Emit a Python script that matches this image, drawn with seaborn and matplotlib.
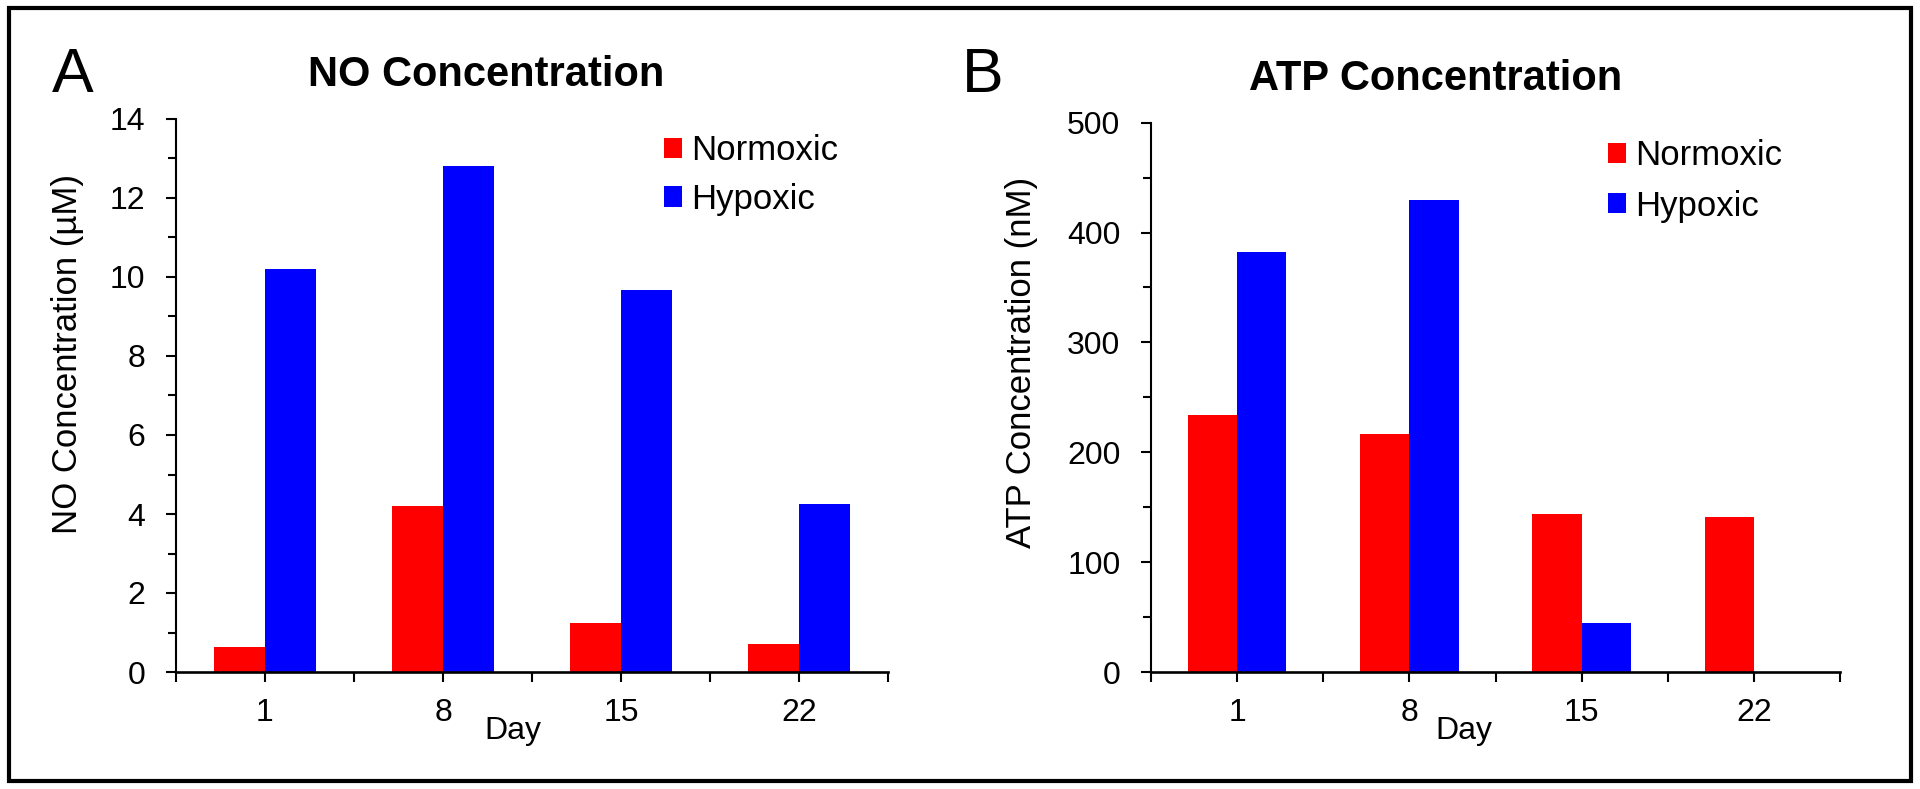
import numpy as np
import pandas as pd
import matplotlib
matplotlib.use("Agg")
import matplotlib.pyplot as plt
from matplotlib.patches import Rectangle
from matplotlib.ticker import MultipleLocator, FixedLocator
import seaborn as sns

days = ["1", "8", "15", "22"]
groups = ["Normoxic", "Hypoxic"]
no_normoxic = [0.63, 4.21, 1.24, 0.70]
no_hypoxic = [10.2, 12.8, 9.66, 4.25]
atp_normoxic = [233.5, 217.0, 143.5, 141.3]
atp_hypoxic = [382.4, 429.4, 44.3, 0.0]

colors = {"Normoxic": "#ff0000", "Hypoxic": "#0000ff"}


def long_table(norm, hyp):
    return pd.DataFrame({
        "Day": days * 2,
        "Condition": ["Normoxic"] * len(days) + ["Hypoxic"] * len(days),
        "Value": list(norm) + list(hyp),
    })


no_df = long_table(no_normoxic, no_hypoxic)
atp_df = long_table(atp_normoxic, atp_hypoxic)

sns.set_style("ticks")
plt.rcParams["font.family"] = ["Liberation Sans", "DejaVu Sans"]
plt.rcParams.update({
    "text.color": "black",
    "axes.labelcolor": "black",
    "axes.edgecolor": "black",
    "xtick.color": "black",
    "ytick.color": "black",
})

W, H = 1920, 789
fig = plt.figure(figsize=(W / 100, H / 100), dpi=100)


def px_axes(l, t, r, b):
    return fig.add_axes([l / W, 1 - b / H, (r - l) / W, (b - t) / H])


axA = px_axes(176, 119, 888, 672)
axB = px_axes(1151, 122.7, 1840, 672)


def draw(ax, df, ymax, ystep, yminor, ylabel, title, title_x, ylab_xy, day_x, leg_xy, legsp):
    sns.barplot(data=df, x="Day", y="Value", hue="Condition", order=days,
                hue_order=groups, palette=colors, width=0.573, saturation=1,
                linewidth=0, ax=ax)
    ax.set_xlim(-0.5, len(days) - 0.5)
    ax.set_ylim(0, ymax)
    ax.yaxis.set_major_locator(MultipleLocator(ystep))
    ax.yaxis.set_minor_locator(MultipleLocator(yminor))
    ax.xaxis.set_minor_locator(FixedLocator(np.arange(-0.5, len(days), 1.0)))
    sns.despine(ax=ax)
    ax.spines["left"].set_linewidth(1.5)
    ax.spines["bottom"].set_linewidth(1.9)
    ax.tick_params(axis="y", which="major", direction="out", length=7.5, width=1.5,
                   labelsize=23, pad=14.5, colors="black")
    ax.tick_params(axis="y", which="minor", direction="out", length=5.5, width=1.5)
    ax.tick_params(axis="x", which="both", direction="out", length=7.5, width=1.5,
                   labelsize=23, pad=11.5, colors="black")
    ax.set_xlabel("Day", fontsize=23)
    ax.xaxis.set_label_coords(day_x, -0.08)
    ax.set_ylabel(ylabel, fontsize=25)
    ax.yaxis.set_label_coords(*ylab_xy)
    ax.text(title_x, 1.06, title, transform=ax.transAxes, ha="center",
            va="baseline", fontsize=30, fontweight="bold")
    sns.move_legend(ax, "center left", bbox_to_anchor=leg_xy,
                    bbox_transform=fig.transFigure, title=None, frameon=False,
                    fontsize=25, handlelength=0.52, handleheight=0.52,
                    handletextpad=0.26, labelspacing=legsp, borderpad=0,
                    borderaxespad=0)


draw(axA, no_df, 14, 2, 1, "NO Concentration (\u00b5M)", "NO Concentration",
     0.4354, (-0.129, 0.575), 0.4733, (664 / W, 1 - 175 / H), 0.45)
draw(axB, atp_df, 500, 100, 50, "ATP Concentration (nM)", "ATP Concentration",
     0.4136, (-0.164, 0.564), 0.4543, (1608 / W, 1 - 181 / H), 0.5)

fig.text(73 / W, 1 - 92 / H, "A", ha="center", va="baseline", fontsize=45)
fig.text(983 / W, 1 - 92 / H, "B", ha="center", va="baseline", fontsize=45)

fig.add_artist(Rectangle((9 / W, 1 - 780.5 / H), (1911 - 9) / W, (780.5 - 7.5) / H,
                         transform=fig.transFigure, fill=False, lw=3,
                         edgecolor="black"))

fig.savefig("out.png", dpi=100)
